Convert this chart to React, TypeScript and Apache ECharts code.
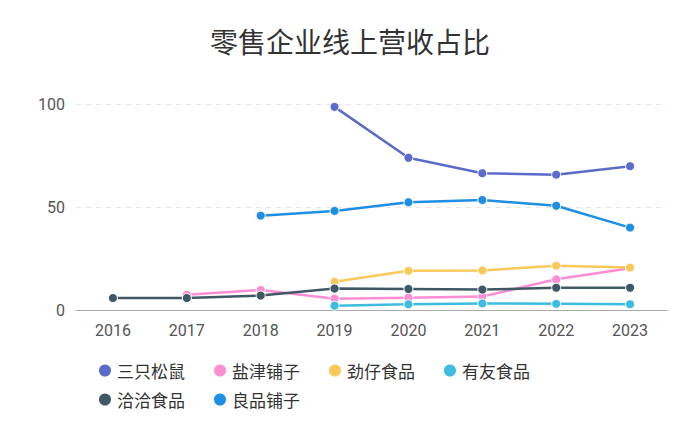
import React, { useEffect, useRef } from "react";
import * as echarts from "echarts";

const years = ["2016", "2017", "2018", "2019", "2020", "2021", "2022", "2023"];
const seriesNames = ["三只松鼠", "盐津铺子", "劲仔食品", "有友食品", "洽洽食品", "良品铺子"];
const colors = ["#5b6bc9", "#ff8dd4", "#fbc85a", "#3cbde0", "#3f5866", "#1e8fe3"];

const sanzhi = [null, null, null, 98.6, 73.9, 66.4, 65.7, 69.8];
const yanjin = [null, 7.4, 9.7, 5.5, 6.0, 6.5, 14.9, 20.3];
const jinzai = [null, null, null, 13.7, 19.0, 19.2, 21.5, 20.6];
const youyou = [null, null, null, 2.1, 2.8, 3.2, 3.0, 2.8];
const qiaqia = [5.8, 5.8, 7.0, 10.4, 10.2, 9.9, 10.8, 10.8];
const liangpin = [null, null, 45.8, 48.1, 52.3, 53.4, 50.6, 40.0];

const seriesData = [sanzhi, yanjin, jinzai, youyou, qiaqia, liangpin];

export default function App() {
  const ref = useRef<HTMLDivElement>(null);
  useEffect(() => {
    if (!ref.current) return;
    const chart = echarts.init(ref.current, undefined, { renderer: "svg" });
    const font = "'Noto Sans CJK SC', 'Noto Sans', sans-serif";
    const legendCommon = {
      left: 84,
      itemGap: 27,
      itemWidth: 14,
      itemHeight: 14,
      icon: "circle",
      textStyle: { fontSize: 17, color: "#333", fontFamily: font },
    };
    chart.setOption({
      animation: false,
      color: colors,
      title: {
        text: "零售企业线上营收占比",
        left: "center",
        top: 14,
        textStyle: { fontSize: 28, fontWeight: "normal", color: "#333", fontFamily: font },
      },
      legend: [
        { ...legendCommon, top: 349, data: seriesNames.slice(0, 4) },
        { ...legendCommon, top: 378, data: seriesNames.slice(4) },
      ],
      grid: { left: 68, right: 25, top: 96, bottom: 130 },
      xAxis: {
        type: "category",
        data: years,
        boundaryGap: true,
        axisLine: { lineStyle: { color: "#aaa" } },
        axisTick: { alignWithLabel: true, lineStyle: { color: "#aaa" } },
        axisLabel: { fontSize: 16, color: "#555", margin: 12, fontFamily: "Roboto, sans-serif" },
      },
      yAxis: {
        type: "value",
        min: 0,
        max: 100,
        interval: 50,
        axisLine: { show: false },
        axisTick: { show: false },
        axisLabel: { fontSize: 16, color: "#555", margin: 11, fontFamily: "Roboto, sans-serif" },
        splitLine: { lineStyle: { color: "#e6e6e6", type: [5, 5] } },
      },
      series: seriesNames.map((name, i) => ({
        name,
        type: "line",
        data: seriesData[i],
        symbol: "circle",
        symbolSize: 9,
        showSymbol: true,
        lineStyle: { width: 2.5 },
        itemStyle: { borderColor: "#fff", borderWidth: 1 },
      })),
    });
    return () => chart.dispose();
  }, []);
  return <div ref={ref} style={{ width: 684, height: 432 }} />;
}
